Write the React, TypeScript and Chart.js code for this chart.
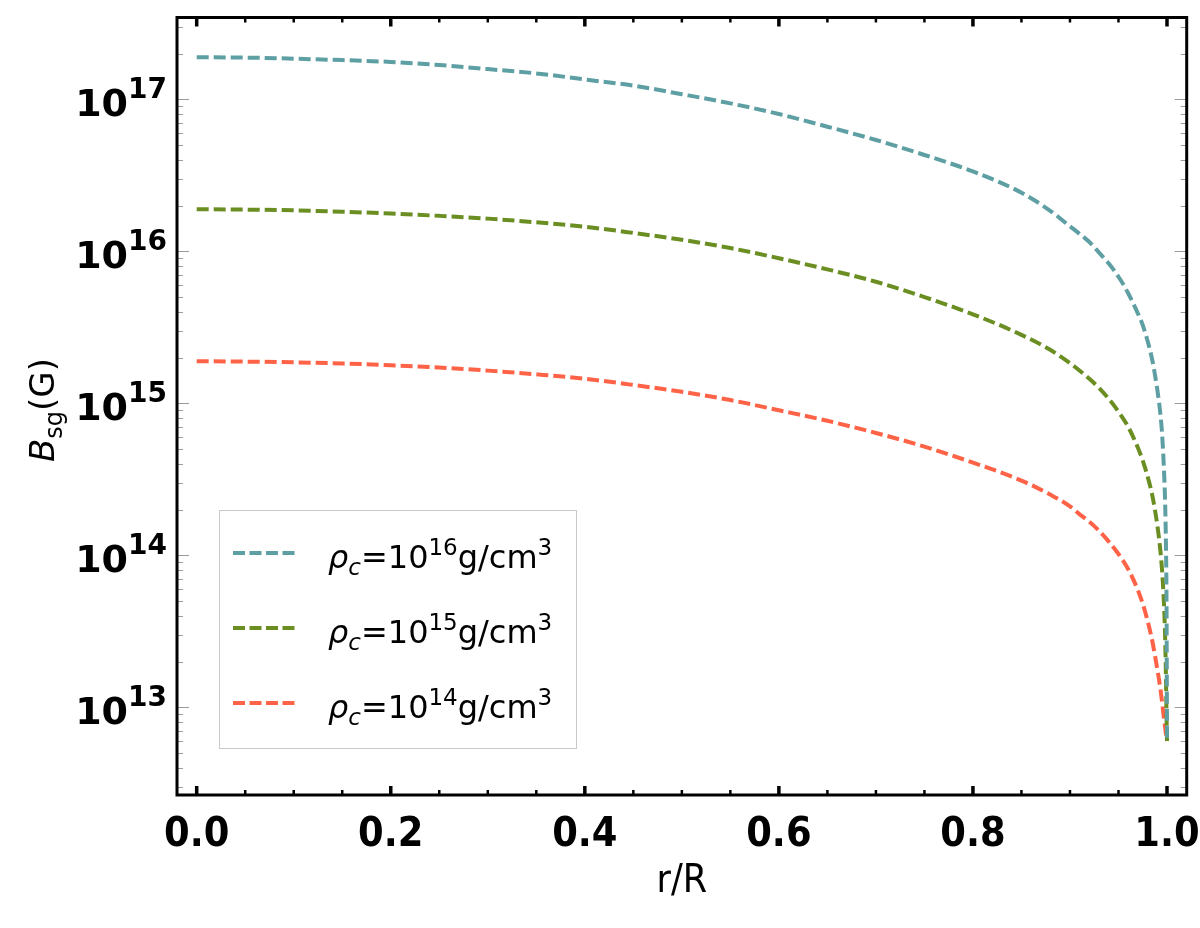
import React, { useEffect, useRef } from "react";
import { Chart, registerables } from "chart.js";

Chart.register(...registerables);

// r/R sample positions
const rValues = [
  0, 0.05, 0.1, 0.15, 0.2, 0.25, 0.3, 0.35, 0.4, 0.45, 0.5, 0.55, 0.6, 0.65, 0.7,
  0.75, 0.8, 0.85, 0.88, 0.9, 0.91, 0.92, 0.93, 0.94, 0.95, 0.96, 0.97, 0.975,
  0.98, 0.985, 0.99, 0.993, 0.995, 0.997, 0.998, 0.999, 0.9995, 1.0,
];

// B_sg (G) for rho_c = 1e16 g/cm^3
const bRho16 = [
  1.89e17, 1.88e17, 1.85e17, 1.81e17, 1.76e17, 1.68e17, 1.58e17, 1.48e17, 1.35e17,
  1.23e17, 1.08e17, 9.4e16, 8.0e16, 6.6e16, 5.4e16, 4.3e16, 3.35e16, 2.43e16,
  1.84e16, 1.46e16, 1.3e16, 1.15e16, 9.8e15, 8.3e15, 6.8e15, 5.3e15, 3.9e15,
  3.27e15, 2.57e15, 1.9e15, 1.23e15, 8.7e14, 6.2e14, 3.5e14, 2.3e14, 1.07e14,
  5.0e13, 6.0e12,
];

// B_sg (G) for rho_c = 1e15 g/cm^3
const bRho15 = [
  1.89e16, 1.88e16, 1.86e16, 1.82e16, 1.77e16, 1.71e16, 1.64e16, 1.55e16, 1.45e16,
  1.32e16, 1.19e16, 1.05e16, 9.0e15, 7.6e15, 6.3e15, 5.0e15, 3.85e15, 2.82e15,
  2.24e15, 1.84e15, 1.64e15, 1.45e15, 1.26e15, 1.07e15, 8.8e14, 7.0e14, 5.1e14,
  4.2e14, 3.3e14, 2.45e14, 1.58e14, 1.1e14, 7.8e13, 4.6e13, 3.0e13, 1.48e13,
  8.9e12, 6.0e12,
];

// B_sg (G) for rho_c = 1e14 g/cm^3
const bRho14 = [
  1.89e15, 1.88e15, 1.86e15, 1.83e15, 1.78e15, 1.72e15, 1.64e15, 1.55e15, 1.45e15,
  1.32e15, 1.19e15, 1.05e15, 9.0e14, 7.67e14, 6.38e14, 5.19e14, 4.07e14, 3.1e14,
  2.5e14, 2.1e14, 1.86e14, 1.66e14, 1.45e14, 1.23e14, 1.02e14, 8.1e13, 5.9e13,
  4.8e13, 3.7e13, 2.7e13, 1.78e13, 1.35e13, 1.07e13, 8.3e12, 7.4e12, 6.6e12,
  6.3e12, 6.0e12,
];

const seriesExponents = ["16", "15", "14"];
const seriesColors = ["#5E9FA3", "#6B8E23", "#FF6347"];

const xTickValues = [0, 0.2, 0.4, 0.6, 0.8, 1.0];
const xTickLabels = ["0.0", "0.2", "0.4", "0.6", "0.8", "1.0"];
const yTickExponents = [13, 14, 15, 16, 17];

const xTitle = "r/R";

type Part = { t: string; font: string; dy?: number };

function measureParts(ctx: CanvasRenderingContext2D, parts: Part[]) {
  let w = 0;
  for (const p of parts) {
    ctx.font = p.font;
    w += ctx.measureText(p.t).width;
  }
  return w;
}

function drawParts(ctx: CanvasRenderingContext2D, parts: Part[], x: number, y: number) {
  let cx = x;
  for (const p of parts) {
    ctx.font = p.font;
    ctx.fillText(p.t, cx, y + (p.dy || 0));
    cx += ctx.measureText(p.t).width;
  }
  return cx;
}

const FONT = '"DejaVu Sans", Verdana, sans-serif';
const COND = '"DejaVu Sans Condensed", "Liberation Sans Narrow", "DejaVu Sans", sans-serif';

const framePlugin = {
  id: "framePlugin",
  afterDraw(chart: any) {
    const { ctx, chartArea: a, scales } = chart;
    const xs = scales.x;
    const ys = scales.y;
    ctx.save();

    const seg = (x1: number, y1: number, x2: number, y2: number) => {
      ctx.beginPath();
      ctx.moveTo(x1, y1);
      ctx.lineTo(x2, y2);
      ctx.stroke();
    };

    // y ticks (log, gray) on left and right
    ctx.strokeStyle = "#9c9c9c";
    ctx.lineWidth = 1;
    for (let e = yTickExponents[0] - 1; e <= yTickExponents[yTickExponents.length - 1]; e++) {
      for (let m = 1; m <= 9; m++) {
        const v = m * Math.pow(10, e);
        if (v < ys.min || v > ys.max) continue;
        const py = Math.round(ys.getPixelForValue(v)) + 0.5;
        const len = m === 1 ? 12 : 6;
        seg(a.left, py, a.left + len, py);
        seg(a.right - len, py, a.right, py);
      }
    }

    // x ticks (black) on bottom and top
    ctx.strokeStyle = "#000";
    for (let i = 0; i <= 20; i++) {
      const v = i * 0.05;
      const px = xs.getPixelForValue(v);
      const major = i % 4 === 0;
      ctx.lineWidth = major ? 3.5 : 2.5;
      const len = major ? 9 : 5;
      seg(px, a.bottom, px, a.bottom - len);
      seg(px, a.top, px, a.top + len);
    }

    // frame
    ctx.lineWidth = 3;
    ctx.strokeRect(a.left, a.top, a.right - a.left, a.bottom - a.top);

    ctx.fillStyle = "#000";
    ctx.textBaseline = "alphabetic";

    // x tick labels
    ctx.textAlign = "center";
    ctx.font = `bold 41px ${COND}`;
    xTickValues.forEach((v, i) => {
      ctx.fillText(xTickLabels[i], xs.getPixelForValue(v), 846);
    });

    // x title
    ctx.font = `39px ${COND}`;
    ctx.fillText(xTitle, (a.left + a.right) / 2, 892);

    // y tick labels: 10^n
    ctx.textAlign = "left";
    yTickExponents.forEach((e) => {
      const py = ys.getPixelForValue(Math.pow(10, e));
      const parts: Part[] = [
        { t: "10", font: `bold 38px ${FONT}` },
        { t: String(e), font: `bold 28px ${FONT}`, dy: -18 },
      ];
      const w = measureParts(ctx, parts);
      drawParts(ctx, parts, 167 - w, py + 17);
    });

    // y title (rotated)
    ctx.save();
    ctx.translate(54, 410);
    ctx.rotate(-Math.PI / 2);
    const tParts: Part[] = [
      { t: "B", font: `italic 34px ${FONT}` },
      { t: "sg", font: `24px ${FONT}`, dy: 8 },
      { t: "(G)", font: `34px ${FONT}` },
    ];
    const tw = measureParts(ctx, tParts);
    drawParts(ctx, tParts, -tw / 2, 0);
    ctx.restore();

    // legend
    const lx = 219.5, ly = 510.5, lw = 357, lh = 238;
    ctx.fillStyle = "#ffffff";
    ctx.fillRect(lx, ly, lw, lh);
    ctx.strokeStyle = "#c8c8c8";
    ctx.lineWidth = 1;
    ctx.strokeRect(lx, ly, lw, lh);
    chart.data.datasets.forEach((ds: any, i: number) => {
      const cy = 553 + i * 75;
      ctx.strokeStyle = ds.borderColor;
      ctx.lineWidth = 4;
      ctx.setLineDash([12, 4.5]);
      seg(233, cy, 295, cy);
      ctx.setLineDash([]);
      ctx.fillStyle = "#000";
      const parts: Part[] = [
        { t: "ρ", font: `italic 32px ${FONT}` },
        { t: "c", font: `italic 23px ${FONT}`, dy: 7 },
        { t: "=10", font: `32px ${FONT}` },
        { t: seriesExponents[i], font: `23px ${FONT}`, dy: -13 },
        { t: "g/cm", font: `32px ${FONT}` },
        { t: "3", font: `23px ${FONT}`, dy: -13 },
      ];
      drawParts(ctx, parts, 328, cy + 15);
    });

    ctx.restore();
  },
};

export default function App() {
  const canvasRef = useRef<HTMLCanvasElement | null>(null);

  useEffect(() => {
    const canvas = canvasRef.current;
    if (!canvas) return;
    const series = [bRho16, bRho15, bRho14];
    const chart = new Chart(canvas, {
      type: "line",
      data: {
        datasets: series.map((vals, i) => ({
          label: `ρc=10^${seriesExponents[i]} g/cm^3`,
          data: rValues.map((r, k) => ({ x: r, y: vals[k] })),
          borderColor: seriesColors[i],
          backgroundColor: seriesColors[i],
          borderWidth: 4,
          borderDash: [12, 5],
          borderCapStyle: "butt" as const,
          pointRadius: 0,
          fill: false,
          cubicInterpolationMode: "monotone" as const,
        })),
      },
      options: {
        responsive: false,
        animation: false,
        devicePixelRatio: 1,
        layout: { padding: { left: 177, top: 17.5, right: 13.3, bottom: 133 } },
        plugins: { legend: { display: false }, tooltip: { enabled: false } },
        scales: {
          x: { type: "linear", min: -0.0203, max: 1.0203, display: false },
          y: {
            type: "logarithmic",
            min: Math.pow(10, 12.423),
            max: Math.pow(10, 17.538),
            display: false,
          },
        },
      },
      plugins: [framePlugin],
    });
    return () => chart.destroy();
  }, []);

  return (
    <div style={{ position: "fixed", left: 0, top: 0, width: 1200, height: 928, background: "#fff" }}>
      <canvas ref={canvasRef} width={1200} height={928} style={{ display: "block" }} />
    </div>
  );
}
